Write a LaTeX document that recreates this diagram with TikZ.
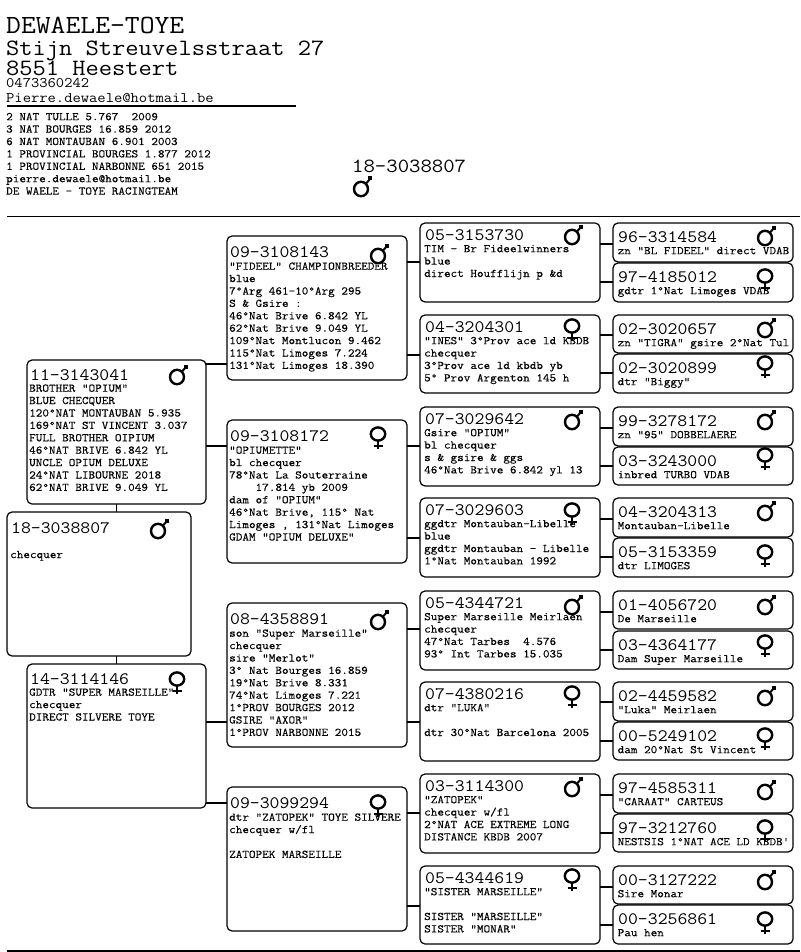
\documentclass[tikz,border=0pt]{standalone}
\usepackage{fontspec}
\newfontfamily\ringfont{Latin Modern Mono}[FakeStretch=1.1]
\newfontfamily\bodyfont{Latin Modern Mono}[FakeStretch=1.1,FakeBold=0.2]
\tikzset{
  x=1pt, y=-1pt,
  pbox/.style={draw, line width=1.2pt, rounded corners=5pt, anchor=north west, outer sep=0pt, inner sep=0pt},
  ringtxt/.style={anchor=mid west, inner sep=0pt, font=\ringfont\fontsize{17.45}{19}\selectfont},
  bodytxt/.style={anchor=north west, inner sep=0pt, align=left, font=\bodyfont\fontsize{11.65}{12.4}\selectfont},
  headtxt/.style={anchor=base west, inner sep=0pt, font=\ringfont},
  wire/.style={line width=1.2pt},
  male/.pic={
    \draw[line width=2.4pt] (0,0) ellipse [x radius=7, y radius=7.2];
    \draw[line width=2pt] (4.5,-4.8) -- (8.5,-9.5);
    \fill (7,-12.5) rectangle (11,-8.5);
  },
  female/.pic={
    \draw[line width=2.4pt] (0,0) ellipse [x radius=7.2, y radius=6.6];
    \draw[line width=2pt] (0,6) -- (0,15);
    \draw[line width=2pt] (-4.5,11.5) -- (4.5,11.5);
  },
}
% name, x, y, height, ring, symbol, symbol y, text
\newcommand{\pigeon}[8]{
  \node[pbox, minimum width=\bw pt, minimum height=#4 pt] (#1) at (#2,#3) {};
  \node[ringtxt] (#1r) at ([xshift=\rx pt, yshift=-\ry pt]#1.north west) {#5};
  \node[bodytxt] (#1t) at ([xshift=\tx pt, yshift=-\ty pt]#1.north west) {\rule{0pt}{9pt}#8};
  \pic at (#2+\gx,#7) {#6};
}
\begin{document}
\begin{tikzpicture}
\useasboundingbox (0,0) rectangle (800,952);

% Kop
\node[headtxt, font=\ringfont\fontsize{26.2}{28}\selectfont] (naam) at (6,33.5) {DEWAELE-TOYE};
\node[headtxt, font=\ringfont\fontsize{23.4}{25}\selectfont] (straat) at (6,56) {Stijn Streuvelsstraat 27};
\node[headtxt, font=\ringfont\fontsize{23.4}{25}\selectfont] (stad) at (6,75.5) {8551 Heestert};
\node[headtxt, font=\ringfont\fontsize{14.65}{16}\selectfont] (tel) at (6,87.5) {0473360242};
\node[headtxt, font=\ringfont\fontsize{14.65}{16}\selectfont] (mail) at (6,103) {Pierre.dewaele@hotmail.be};
\coordinate (lijnA) at (7,106);
\coordinate (lijnB) at (296,106);
\draw[wire] (lijnA) -- (lijnB);
\node[bodytxt] (prijzen) at (6,111) {\rule{0pt}{9pt}2 NAT TULLE 5.767 ~2009\\
3 NAT BOURGES 16.859 2012\\
6 NAT MONTAUBAN 6.901 2003\\
1 PROVINCIAL BOURGES 1.877 2012\\
1 PROVINCIAL NARBONNE 651 2015\\
pierre.dewaele@hotmail.be\\
DE WAELE - TOYE RACINGTEAM};
\node[headtxt, font=\ringfont\fontsize{20.1}{22}\selectfont] (titel) at (352,172) {18-3038807};
\pic at (361,189) {male};
\coordinate (boven1) at (7,216.5);
\coordinate (boven2) at (800,216.5);
\draw[wire] (boven1) -- (boven2);
\coordinate (onder1) at (7,951);
\coordinate (onder2) at (800,951);
\draw[wire] (onder1) -- (onder2);

% Duif
\def\bw{184}\def\rx{4}\def\ry{19}\def\tx{3}\def\ty{24.5}\def\gx{151}
\pigeon{p}{7}{512}{144}{18-3038807}{male}{531}{\\checquer}

% Ouders
\def\bw{179}\def\rx{3}\def\ry{18}\def\tx{2}\def\ty{22.5}\def\gx{150}
\pigeon{s}{27}{360}{144}{11-3143041}{male}{377}{BROTHER "OPIUM"\\
BLUE CHECQUER\\
120°NAT MONTAUBAN 5.935\\
169°NAT ST VINCENT 3.037\\
FULL BROTHER OIPIUM\\
46°NAT BRIVE 6.842 YL\\
UNCLE OPIUM DELUXE\\
24°NAT LIBOURNE 2018\\
62°NAT BRIVE 9.049 YL}
\pigeon{d}{27}{664}{144}{14-3114146}{female}{679}{GDTR "SUPER MARSEILLE"\\
checquer\\
DIRECT SILVERE TOYE}

% Grootouders
\def\bw{180}\def\rx{3}\def\ry{19}\def\tx{2}\def\ty{24.5}\def\gx{151}
\pigeon{ss}{227}{236}{144}{09-3108143}{male}{256}{"FIDEEL" CHAMPIONBREEDER\\
blue\\
7°Arg 461-10°Arg 295\\
S \& Gsire :\\
46°Nat Brive 6.842 YL\\
62°Nat Brive 9.049 YL\\
109°Nat Montlucon 9.462\\
115°Nat Limoges 7.224\\
131°Nat Limoges 18.390}
\pigeon{sd}{227}{420}{143}{09-3108172}{female}{434}{"OPIUMETTE"\\
bl checquer\\
78°Nat La Souterraine\\
\phantom{0000}17.814 yb 2009\\
dam of "OPIUM"\\
46°Nat Brive, 115° Nat\\
Limoges , 131°Nat Limoges\\
GDAM "OPIUM DELUXE"}
\pigeon{ds}{227}{603}{144}{08-4358891}{male}{622}{son "Super Marseille"\\
checquer\\
sire "Merlot"\\
3° Nat Bourges 16.859\\
19°Nat Brive 8.331\\
74°Nat Limoges 7.221\\
1°PROV BOURGES 2012\\
GSIRE "AXOR"\\
1°PROV NARBONNE 2015}
\pigeon{dd}{227}{787}{144}{09-3099294}{female}{802}{dtr "ZATOPEK" TOYE SILVERE\\
checquer w/fl\\
\\
ZATOPEK MARSEILLE}

% Overgrootouders
\def\bw{180}\def\rx{5}\def\ry{15}\def\tx{4}\def\ty{20}\def\gx{152}
\pigeon{sss}{420}{223}{79}{05-3153730}{male}{237}{TIM - Br Fideelwinners\\
blue\\
direct Houfflijn p \&d}
\pigeon{ssd}{420}{315}{78}{04-3204301}{female}{326}{"INES" 3°Prov ace ld KBDB\\
checquer\\
3°Prov ace ld kbdb yb\\
5° Prov Argenton 145 h}
\pigeon{sds}{420}{407}{79}{07-3029642}{male}{422}{Gsire "OPIUM"\\
bl checquer\\
s \& gsire \& ggs\\
46°Nat Brive 6.842 yl 13}
\pigeon{sdd}{420}{498}{79}{07-3029603}{female}{510}{ggdtr Montauban-Libelle\\
blue\\
ggdtr Montauban - Libelle\\
1°Nat Montauban 1992}
\pigeon{dss}{420}{591}{79}{05-4344721}{male}{607}{Super Marseille Meirlaen\\
checquer\\
47°Nat Tarbes ~4.576\\
93° Int Tarbes 15.035}
\pigeon{dsd}{420}{682}{79}{07-4380216}{female}{693}{dtr "LUKA"\\
\\
dtr 30°Nat Barcelona 2005}
\pigeon{dds}{420}{774}{79}{03-3114300}{male}{789}{"ZATOPEK"\\
checquer w/fl\\
2°NAT ACE EXTREME LONG\\
DISTANCE KBDB 2007}
\pigeon{ddd}{420}{866}{78}{05-4344619}{female}{876}{"SISTER MARSEILLE"\\
\\
SISTER "MARSEILLE"\\
SISTER "MONAR"}

% Betovergrootouders
\def\bw{180}\def\rx{5}\def\ry{17}\def\tx{4.5}\def\ty{22}\def\gx{152}
\pigeon{ssss}{613}{223}{39}{96-3314584}{male}{238}{zn "BL FIDEEL" direct VDAB}
\pigeon{sssd}{613}{263}{39}{97-4185012}{female}{276}{gdtr 1°Nat Limoges VDAB}
\pigeon{ssds}{613}{315}{38}{02-3020657}{male}{330}{zn "TIGRA" gsire 2°Nat Tul}
\pigeon{ssdd}{613}{354}{39}{02-3020899}{female}{363}{dtr "Biggy"}
\pigeon{sdss}{613}{407}{39}{99-3278172}{male}{422}{zn "95" DOBBELAERE}
\pigeon{sdsd}{613}{447}{38}{03-3243000}{female}{455}{inbred TURBO VDAB}
\pigeon{sdds}{613}{498}{39}{04-3204313}{male}{513}{Montauban-Libelle}
\pigeon{sddd}{613}{538}{39}{05-3153359}{female}{552}{dtr LIMOGES}
\pigeon{dsss}{613}{591}{38}{01-4056720}{male}{607}{De Marseille}
\pigeon{dssd}{613}{631}{38}{03-4364177}{female}{642}{Dam Super Marseille}
\pigeon{dsds}{613}{682}{39}{02-4459582}{male}{698}{"Luka" Meirlaen}
\pigeon{dsdd}{613}{722}{38}{00-5249102}{female}{735}{dam 20°Nat St Vincent}
\pigeon{ddss}{613}{774}{39}{97-4585311}{male}{792}{"CARAAT" CARTEUS}
\pigeon{ddsd}{613}{814}{38}{97-3212760}{female}{827}{NESTSIS 1°NAT ACE LD KBDB'}
\pigeon{ddds}{613}{866}{38}{00-3127222}{male}{882}{Sire Monar}
\pigeon{dddd}{613}{905}{39}{00-3256861}{female}{919}{Pau hen}

% Verbindingen
\draw[wire] (s.south) -- (s.south |- p.north);
\draw[wire] (s.south |- p.south) -- (s.south |- d.north);

\draw[wire] (s.east |- 0,364) -- (ss.west |- 0,364);
\draw[wire] (s.east |- 0,446) -- (sd.west |- 0,446);
\draw[wire] (d.east |- 0,722) -- (ds.west |- 0,722);
\draw[wire] (d.east |- 0,803) -- (dd.west |- 0,803);

\draw[wire] (ss.east |- 0,262) -- (sss.west |- 0,262);
\draw[wire] (ss.east |- 0,355) -- (ssd.west |- 0,355);
\draw[wire] (sd.east |- 0,446) -- (sds.west |- 0,446);
\draw[wire] (sd.east |- 0,538) -- (sdd.west |- 0,538);
\draw[wire] (ds.east |- 0,629) -- (dss.west |- 0,629);
\draw[wire] (ds.east |- 0,722) -- (dsd.west |- 0,722);
\draw[wire] (dd.east |- 0,813) -- (dds.west |- 0,813);
\draw[wire] (dd.east |- 0,906) -- (ddd.west |- 0,906);

\draw[wire] (sss.east |- 0,244) -- (ssss.west |- 0,244);
\draw[wire] (sss.east |- 0,282) -- (sssd.west |- 0,282);
\draw[wire] (ssd.east |- 0,335) -- (ssds.west |- 0,335);
\draw[wire] (ssd.east |- 0,373) -- (ssdd.west |- 0,373);
\draw[wire] (sds.east |- 0,428) -- (sdss.west |- 0,428);
\draw[wire] (sds.east |- 0,466) -- (sdsd.west |- 0,466);
\draw[wire] (sdd.east |- 0,519) -- (sdds.west |- 0,519);
\draw[wire] (sdd.east |- 0,557) -- (sddd.west |- 0,557);
\draw[wire] (dss.east |- 0,612) -- (dsss.west |- 0,612);
\draw[wire] (dss.east |- 0,650) -- (dssd.west |- 0,650);
\draw[wire] (dsd.east |- 0,702) -- (dsds.west |- 0,702);
\draw[wire] (dsd.east |- 0,741) -- (dsdd.west |- 0,741);
\draw[wire] (dds.east |- 0,795) -- (ddss.west |- 0,795);
\draw[wire] (dds.east |- 0,833) -- (ddsd.west |- 0,833);
\draw[wire] (ddd.east |- 0,887) -- (ddds.west |- 0,887);
\draw[wire] (ddd.east |- 0,925) -- (dddd.west |- 0,925);

\end{tikzpicture}
\end{document}
